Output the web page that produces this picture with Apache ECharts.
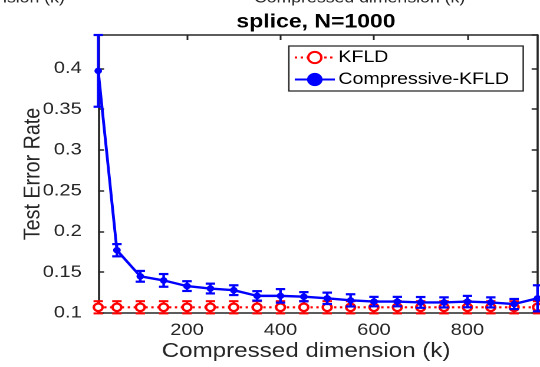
<!DOCTYPE html>
<html>
<head>
<meta charset="utf-8">
<script src="https://cdn.jsdelivr.net/npm/echarts@6/dist/echarts.min.js"></script>
<style>
html,body{margin:0;padding:0;overflow:hidden;background:#fff;width:540px;height:367px;}
#chart{width:458px;height:367px;transform:scaleX(1.179);transform-origin:0 0;}
</style>
</head>
<body>
<div id="chart"></div>
<script>
// ---- data ----
const dims = [10,50,100,150,200,250,300,350,400,450,500,550,600,650,700,750,800,850,900,950];
const kfld = [0.107,0.107,0.107,0.107,0.107,0.107,0.107,0.107,0.107,0.107,0.107,0.107,0.107,0.107,0.107,0.107,0.107,0.107,0.107,0.107];
const kfldErr = [0.0075,0.0075,0.0075,0.0075,0.0075,0.0075,0.0075,0.0075,0.0075,0.0075,0.0075,0.0075,0.0075,0.0075,0.0075,0.0075,0.0075,0.0075,0.0075,0.0075];
const ckfld = [0.397,0.177,0.145,0.140,0.133,0.130,0.128,0.121,0.121,0.120,0.118,0.1155,0.114,0.114,0.113,0.113,0.114,0.113,0.111,0.118];
const ckfldErr = [0.044,0.0075,0.0066,0.0078,0.006,0.006,0.006,0.0058,0.0083,0.0056,0.007,0.0075,0.0058,0.0058,0.0066,0.0062,0.007,0.0062,0.0062,0.016];
const xTicks = [200,400,600,800];
const seriesNames = ['KFLD','Compressive-KFLD'];
const titleText = 'splice, N=1000';
const xName = 'Compressed dimension (k)';
const yName = 'Test Error Rate';

const RED = '#ff0000', BLUE = '#0000ff', AX = '#262626';
const chart = echarts.init(document.getElementById('chart'), null, {devicePixelRatio: 2});

function errBars(color, lw){
  return function(params, api){
    const x = api.value(0), y = api.value(1), e = api.value(2);
    const t = api.coord([x, y + e]), b = api.coord([x, y - e]);
    const cw = 4;
    const st = {stroke: color, lineWidth: lw};
    return {type:'group', children:[
      {type:'line', shape:{x1:t[0],y1:t[1],x2:b[0],y2:b[1]}, style:st},
      {type:'line', shape:{x1:t[0]-cw,y1:t[1],x2:t[0]+cw,y2:t[1]}, style:st},
      {type:'line', shape:{x1:b[0]-cw,y1:b[1],x2:b[0]+cw,y2:b[1]}, style:st}
    ]};
  };
}

const common = {fontFamily:'Liberation Sans, Arial, sans-serif'};
chart.setOption({
  animation:false,
  textStyle: common,
  title:{text:titleText, left:263, top:7, textAlign:'center',
    textStyle:{fontSize:19.5, fontWeight:'bold', color:'#000', fontFamily:common.fontFamily}},
  graphic:[
    {type:'text', x:55, y:6, style:{text:xName, fontSize:15, fill:AX, align:'right', verticalAlign:'bottom', fontFamily:common.fontFamily}},
    {type:'text', x:305, y:6, style:{text:xName, fontSize:15, fill:AX, align:'center', verticalAlign:'bottom', fontFamily:common.fontFamily}}
  ],
  legend:{
    data:seriesNames, orient:'vertical', left:245, top:46,
    padding:[3,12,3,4], itemGap:5, itemWidth:34, itemHeight:14,
    borderColor:AX, borderWidth:1.2, backgroundColor:'#fff',
    textStyle:{fontSize:16.6, color:'#000', fontFamily:common.fontFamily, padding:[0,0,0,-2]}
  },
  grid:{left:83.3, right:2.1, top:35, bottom:54, containLabel:false},
  xAxis:[
    {type:'value', min:10, max:950, position:'bottom',
      name:xName, nameLocation:'middle', nameGap:28, nameMoveOverlap:false,
      nameTextStyle:{fontSize:20.5, color:AX, padding:[0,20,0,0], fontFamily:common.fontFamily},
      axisLine:{show:true, lineStyle:{color:AX, width:1.6}},
      axisTick:{show:true, inside:true, length:5, customValues:xTicks, lineStyle:{color:AX, width:1.5}},
      axisLabel:{show:true, customValues:xTicks, fontSize:17, color:AX, margin:9},
      splitLine:{show:false}},
    {type:'value', min:10, max:950, position:'top',
      axisLine:{show:true, lineStyle:{color:AX, width:1.6}},
      axisTick:{show:true, inside:true, length:5, customValues:xTicks, lineStyle:{color:AX, width:1.5}},
      axisLabel:{show:false}, splitLine:{show:false}}
  ],
  yAxis:[
    {type:'value', min:0.1, max:0.441, interval:0.05, position:'left',
      name:yName, nameLocation:'middle', nameGap:45, nameRotate:90, nameMoveOverlap:false,
      nameTextStyle:{fontSize:19.7, color:AX, fontFamily:common.fontFamily},
      axisLine:{show:true, lineStyle:{color:AX, width:1.8}},
      axisTick:{show:true, inside:true, length:5, lineStyle:{color:AX, width:1.5}},
      axisLabel:{show:true, fontSize:17, color:AX, margin:14, showMaxLabel:false,
        formatter:function(v){ return String(+v.toFixed(2)); }},
      splitLine:{show:false}},
    {type:'value', min:0.1, max:0.441, interval:0.05, position:'right',
      axisLine:{show:true, lineStyle:{color:AX, width:1.8}},
      axisTick:{show:true, inside:true, length:5, lineStyle:{color:AX, width:1.5}},
      axisLabel:{show:false}, splitLine:{show:false}}
  ],
  series:[
    {name:seriesNames[0], type:'line', xAxisIndex:0, yAxisIndex:0, z:3,
      data:dims.map((d,i)=>[d,kfld[i]]),
      lineStyle:{color:RED, width:2.2, type:[2,3]},
      itemStyle:{color:'#fff', borderColor:RED, borderWidth:2.2},
      symbol:'circle', symbolSize:7.5, showSymbol:true},
    {name:'kerr', type:'custom', xAxisIndex:0, yAxisIndex:0, z:3, clip:false,
      data:dims.map((d,i)=>[d,kfld[i],kfldErr[i]]),
      renderItem:errBars(RED, 2), silent:true},
    {name:seriesNames[1], type:'line', xAxisIndex:0, yAxisIndex:0, z:4,
      data:dims.map((d,i)=>[d,ckfld[i]]),
      lineStyle:{color:BLUE, width:2.4},
      itemStyle:{color:BLUE, borderColor:BLUE, borderWidth:1},
      symbol:'circle', symbolSize:5.5, showSymbol:true},
    {name:'cerr', type:'custom', xAxisIndex:0, yAxisIndex:0, z:4, clip:false,
      data:dims.map((d,i)=>[d,ckfld[i],ckfldErr[i]]),
      renderItem:errBars(BLUE, 2.2), silent:true}
  ]
});
</script>
</body>
</html>
